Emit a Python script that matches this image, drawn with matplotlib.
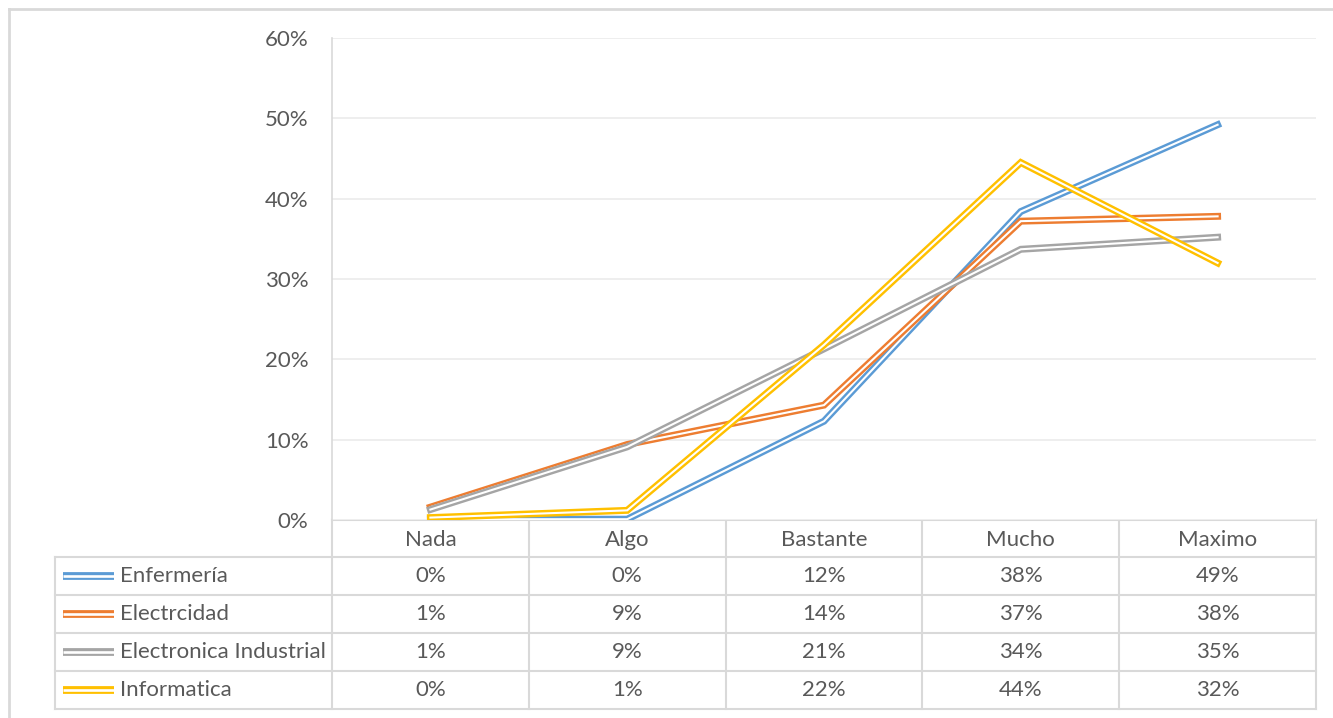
import numpy as np
import matplotlib.pyplot as plt

plt.rcParams['font.family'] = ['Lato', 'DejaVu Sans']

# datos
categorias = ['Nada', 'Algo', 'Bastante', 'Mucho', 'Maximo']
series = ['Enfermería', 'Electrcidad', 'Electronica Industrial', 'Informatica']
enfermeria = [0.001, 0.001, 0.123, 0.384, 0.492]
electricidad = [0.016, 0.094, 0.143, 0.372, 0.378]
electronica = [0.013, 0.091, 0.213, 0.337, 0.352]
informatica = [0.003, 0.012, 0.218, 0.445, 0.320]
etiquetas = [
    ['0%', '0%', '12%', '38%', '49%'],
    ['1%', '9%', '14%', '37%', '38%'],
    ['1%', '9%', '21%', '34%', '35%'],
    ['0%', '1%', '22%', '44%', '32%'],
]
colores = ['#5B9BD5', '#ED7D31', '#A5A5A5', '#FFC000']
valores = [enfermeria, electricidad, electronica, informatica]

W, H = 1333, 718
texto = '#595959'
borde = '#D9D9D9'
fs = 16

fig = plt.figure(figsize=(W / 100, H / 100), dpi=100)

# area del grafico (en pixeles de la imagen)
px_izq, px_der, px_arr, px_cero = 332, 1316, 38, 520
ax = fig.add_axes([px_izq / W, 1 - px_cero / H, (px_der - px_izq) / W, (px_cero - px_arr) / H])
x = np.arange(len(categorias))
for vals, col in zip(valores, colores):
    ax.plot(x, vals, color=col, lw=5.0, solid_joinstyle='miter', zorder=3)
    ax.plot(x, vals, color='white', lw=1.5, solid_joinstyle='miter', zorder=3)

ax.set_xlim(-0.5, len(categorias) - 0.5)
ax.set_ylim(0, 0.6)
ticks = np.arange(0, 0.61, 0.1)
ax.set_yticks(ticks)
ax.set_yticklabels([f'{int(round(v * 100))}%' for v in ticks])
ax.yaxis.grid(True, color='#EBEBEB', lw=1.2)
ax.set_axisbelow(True)
ax.set_xticks([])
ax.tick_params(axis='y', length=0, pad=17, labelsize=fs, labelcolor=texto)
for s in ['top', 'right', 'bottom']:
    ax.spines[s].set_visible(False)
ax.spines['left'].set_color(borde)
ax.spines['left'].set_linewidth(1.2)

# tabla de datos
tab_izq, fila_h = 55, 38
cab_arr = px_cero
cab_ab = cab_arr + 37
ancho_col = (px_der - px_izq) / len(categorias)
tab = fig.add_axes([0, 0, 1, 1], zorder=-1)
tab.set_xlim(0, W)
tab.set_ylim(H, 0)
tab.axis('off')

n = len(series)
fondo = cab_ab + n * fila_h
tab.plot([px_izq, px_der], [cab_arr, cab_arr], color=borde, lw=1.5)
for i in range(n + 1):
    y = cab_ab + i * fila_h
    tab.plot([tab_izq, px_der], [y, y], color=borde, lw=1.5)
for j in range(len(categorias) + 1):
    xx = px_izq + j * ancho_col
    tab.plot([xx, xx], [cab_arr, fondo], color=borde, lw=1.5)
tab.plot([tab_izq, tab_izq], [cab_ab, fondo], color=borde, lw=1.5)

for j, cat in enumerate(categorias):
    tab.text(px_izq + (j + 0.5) * ancho_col, (cab_arr + cab_ab) / 2 + 1, cat,
             ha='center', va='center', fontsize=fs, color=texto)

for i, (nombre, col) in enumerate(zip(series, colores)):
    yc = cab_ab + (i + 0.5) * fila_h
    tab.plot([63, 114], [yc, yc], color=col, lw=5.6, solid_capstyle='butt')
    tab.plot([63, 114], [yc, yc], color='white', lw=1.9, solid_capstyle='butt')
    tab.text(120, yc, nombre, ha='left', va='center', fontsize=fs, color=texto)
    for j, lab in enumerate(etiquetas[i]):
        tab.text(px_izq + (j + 0.5) * ancho_col, yc, lab,
                 ha='center', va='center', fontsize=fs, color=texto)

# marco exterior
tab.plot([9, 9], [9, H], color=borde, lw=2)
tab.plot([9, W], [9, 9], color=borde, lw=2)

fig.savefig('out.png', dpi=100)
